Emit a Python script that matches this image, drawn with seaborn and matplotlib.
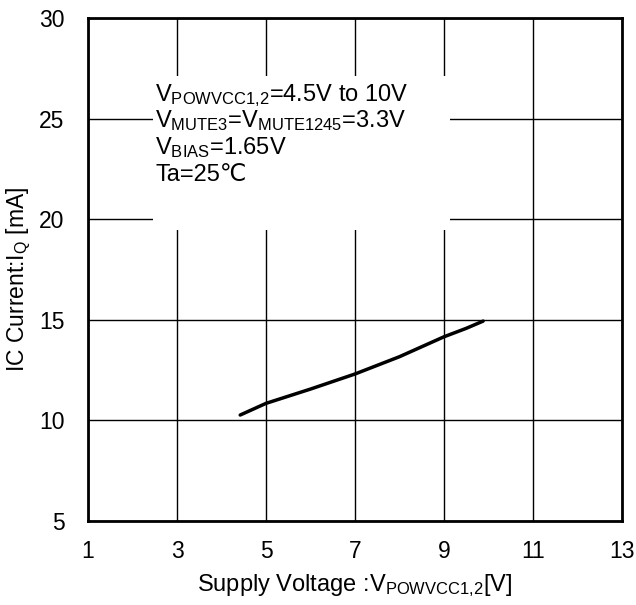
import matplotlib
matplotlib.use("Agg")
import matplotlib.pyplot as plt
import seaborn as sns
import pandas as pd
from matplotlib.patches import Rectangle

voltage = [4.42, 5.0, 6.0, 7.0, 8.0, 9.0, 9.5, 9.88]
current = [10.27, 10.85, 11.56, 12.31, 13.17, 14.16, 14.58, 14.94]
x_ticks = [1, 3, 5, 7, 9, 11, 13]
y_ticks = [5, 10, 15, 20, 25, 30]
notes = [r"V$_{\mathregular{POWVCC1{,}2}}$=4.5V to 10V",
         r"V$_{\mathregular{MUTE3}}$=V$_{\mathregular{MUTE1245}}$=3.3V",
         r"V$_{\mathregular{BIAS}}$=1.65V",
         "Ta=25\u2103"]

sns.set_style("white")
plt.rcParams['font.family'] = ['Liberation Sans', 'DejaVu Sans']
plt.rcParams['mathtext.fontset'] = 'custom'
plt.rcParams['mathtext.rm'] = 'Liberation Sans'
plt.rcParams['mathtext.it'] = 'Liberation Sans'
plt.rcParams['text.color'] = 'black'
plt.rcParams['axes.labelcolor'] = 'black'
plt.rcParams['xtick.color'] = 'black'
plt.rcParams['ytick.color'] = 'black'

fig = plt.figure(figsize=(6.36, 6.05), dpi=100)
ax = fig.add_axes([0.1384, 0.1388, 0.978 - 0.1384, 0.970 - 0.1388])

df = pd.DataFrame({"V": voltage, "I": current})
sns.lineplot(data=df, x="V", y="I", ax=ax, color="black", linewidth=2.5, zorder=3)

ax.set_xlim(1, 13)
ax.set_ylim(5, 30)
ax.set_xticks(x_ticks)
ax.set_yticks(y_ticks)
ax.tick_params(axis="both", labelsize=16.5, length=0, colors="black")
ax.tick_params(axis="x", pad=14)
ax.tick_params(axis="y", pad=17)
ax.grid(True, color="black", linewidth=1)
ax.set_axisbelow(True)
for s in ax.spines.values():
    s.set_color("black")
    s.set_linewidth(2)

ax.add_patch(Rectangle((2.46, 19.46), 9.13 - 2.46, 27.12 - 19.46,
                       facecolor="white", edgecolor="none", zorder=1))
ys = [25.90, 24.57, 23.24, 21.91]
for t, y in zip(notes, ys):
    ax.text(2.51, y, t, fontsize=17, va="baseline", ha="left", zorder=4, color="black")

ax.set_xlabel(r"Supply Voltage :V$_{\mathregular{POWVCC1{,}2}}$[V]", fontsize=17, labelpad=6, color="black")
ax.set_ylabel(r"IC Current:I$_{\mathregular{Q}}$ [mA]", fontsize=16.5, color="black")
ax.yaxis.set_label_coords(-0.103, 0.48)

fig.savefig("out.png", dpi=100)
